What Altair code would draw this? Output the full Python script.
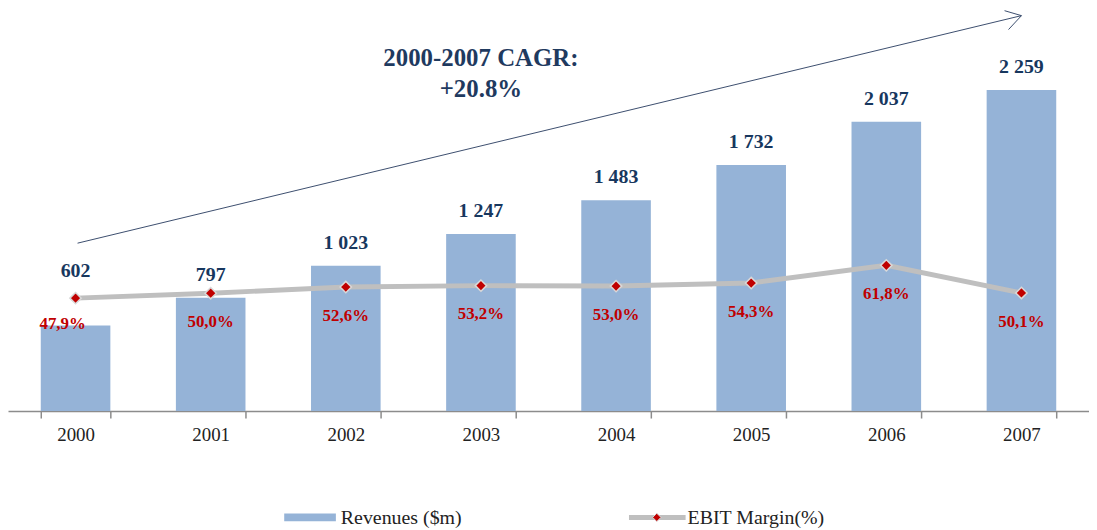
import altair as alt
import pandas as pd

years = ["2000", "2001", "2002", "2003", "2004", "2005", "2006", "2007"]
revenues = [602, 797, 1023, 1247, 1483, 1732, 2037, 2259]
ebit_margin = [47.9, 50.0, 52.6, 53.2, 53.0, 54.3, 61.8, 50.1]

df = pd.DataFrame({
    "year": years,
    "revenue": revenues,
    "margin": ebit_margin,
    "rev_label": [f"{v:,}".replace(",", " ") for v in revenues],
    "margin_label": [f"{m:.1f}%".replace(".", ",") for m in ebit_margin],
})

FONT = "'Liberation Serif', 'Times New Roman', serif"
NAVY = "#17375E"
RED = "#C00000"
BAR = "#95B3D7"
LINE = "#BFBFBF"

W, H = 1088, 403

x_enc = alt.X("year:N", sort=years, title=None,
              scale=alt.Scale(paddingInner=0.485, paddingOuter=0.2425),
              axis=alt.Axis(labelAngle=0, labelFont=FONT, labelFontSize=19,
                            labelColor="#222222", domainColor="#8C8C8C",
                            domainWidth=1.5, tickColor="#8C8C8C", tickWidth=1.5,
                            tickSize=7, labelPadding=8, tickBand="extent",
                            grid=False))
y_rev = alt.Y("revenue:Q", scale=alt.Scale(domain=[0, 2818]), axis=None)
y_mar = alt.Y("margin:Q", scale=alt.Scale(domain=[0, 169.8]), axis=None)

base = alt.Chart(df)

bars = base.mark_bar(color=BAR).encode(x=x_enc, y=y_rev)

rev_text_main = base.transform_filter(alt.datum.year != "2000").mark_text(
    font=FONT, fontSize=20, fontWeight="bold", color=NAVY, baseline="middle", dy=-23
).encode(x=x_enc, y=y_rev, text="rev_label:N")
rev_text_first = base.transform_filter(alt.datum.year == "2000").mark_text(
    font=FONT, fontSize=20, fontWeight="bold", color=NAVY, baseline="middle", dy=-55
).encode(x=x_enc, y=y_rev, text="rev_label:N")

revenue_layer = alt.layer(bars, rev_text_main, rev_text_first)

line = base.mark_line(color=LINE, strokeWidth=5).encode(x=x_enc, y=y_mar)
points = base.mark_point(shape="diamond", filled=True, size=130, color=RED,
                         stroke="#D9D9D9", strokeWidth=1.5, opacity=1).encode(x=x_enc, y=y_mar)
mar_text_main = base.transform_filter(alt.datum.year != "2000").mark_text(
    font=FONT, fontSize=17, fontWeight="bold", color=RED, baseline="middle", dy=29
).encode(x=x_enc, y=y_mar, text="margin_label:N")
mar_text_first = base.transform_filter(alt.datum.year == "2000").mark_text(
    font=FONT, fontSize=17, fontWeight="bold", color=RED, baseline="middle", dy=26, dx=-13
).encode(x=x_enc, y=y_mar, text="margin_label:N")

margin_layer = alt.layer(line, points, mar_text_main, mar_text_first)

one = pd.DataFrame({"k": [0]})
deco = alt.Chart(one)

# arrow
ARROW = "#3B4E6E"
arrow_main = deco.mark_rule(color=ARROW, strokeWidth=1).encode(
    x=alt.value(70), y=alt.value(234), x2=alt.value(1020), y2=alt.value(5))
arrow_a = deco.mark_rule(color=ARROW, strokeWidth=1).encode(
    x=alt.value(1020), y=alt.value(5), x2=alt.value(1003), y2=alt.value(0))
arrow_b = deco.mark_rule(color=ARROW, strokeWidth=1).encode(
    x=alt.value(1020), y=alt.value(5), x2=alt.value(1007), y2=alt.value(19))

cagr1 = deco.mark_text(font=FONT, fontSize=25, fontWeight="bold", color="#1F3A5F",
                       baseline="middle", align="center").encode(
    x=alt.value(476), y=alt.value(48), text=alt.value("2000-2007 CAGR:"))
cagr2 = deco.mark_text(font=FONT, fontSize=25, fontWeight="bold", color="#1F3A5F",
                       baseline="middle", align="center").encode(
    x=alt.value(476), y=alt.value(79), text=alt.value("+20.8%"))

# legend
leg_rect = deco.mark_rect(color=BAR).encode(
    x=alt.value(278), x2=alt.value(330), y=alt.value(506), y2=alt.value(514))
leg_text1 = deco.mark_text(font=FONT, fontSize=20, color="#222222", align="left",
                           baseline="middle").encode(
    x=alt.value(335), y=alt.value(511), text=alt.value("Revenues ($m)"))
leg_line = deco.mark_rule(color=LINE, strokeWidth=5).encode(
    x=alt.value(625), x2=alt.value(682), y=alt.value(510))
leg_pt = deco.mark_point(shape="diamond", filled=True, size=70, color=RED,
                         stroke="#D9D9D9", strokeWidth=1, opacity=1).encode(
    x=alt.value(653), y=alt.value(510))
leg_text2 = deco.mark_text(font=FONT, fontSize=20, color="#222222", align="left",
                           baseline="middle").encode(
    x=alt.value(684), y=alt.value(511), text=alt.value("EBIT Margin(%)"))

chart = alt.layer(
    revenue_layer, margin_layer,
    arrow_main, arrow_a, arrow_b, cagr1, cagr2,
    leg_rect, leg_text1, leg_line, leg_pt, leg_text2,
).resolve_scale(y="independent").properties(
    width=W, height=H, padding=0, background="white"
).configure_view(stroke="transparent", strokeWidth=0)

chart.save("out.html", embed_options={"renderer": "svg", "actions": False})
